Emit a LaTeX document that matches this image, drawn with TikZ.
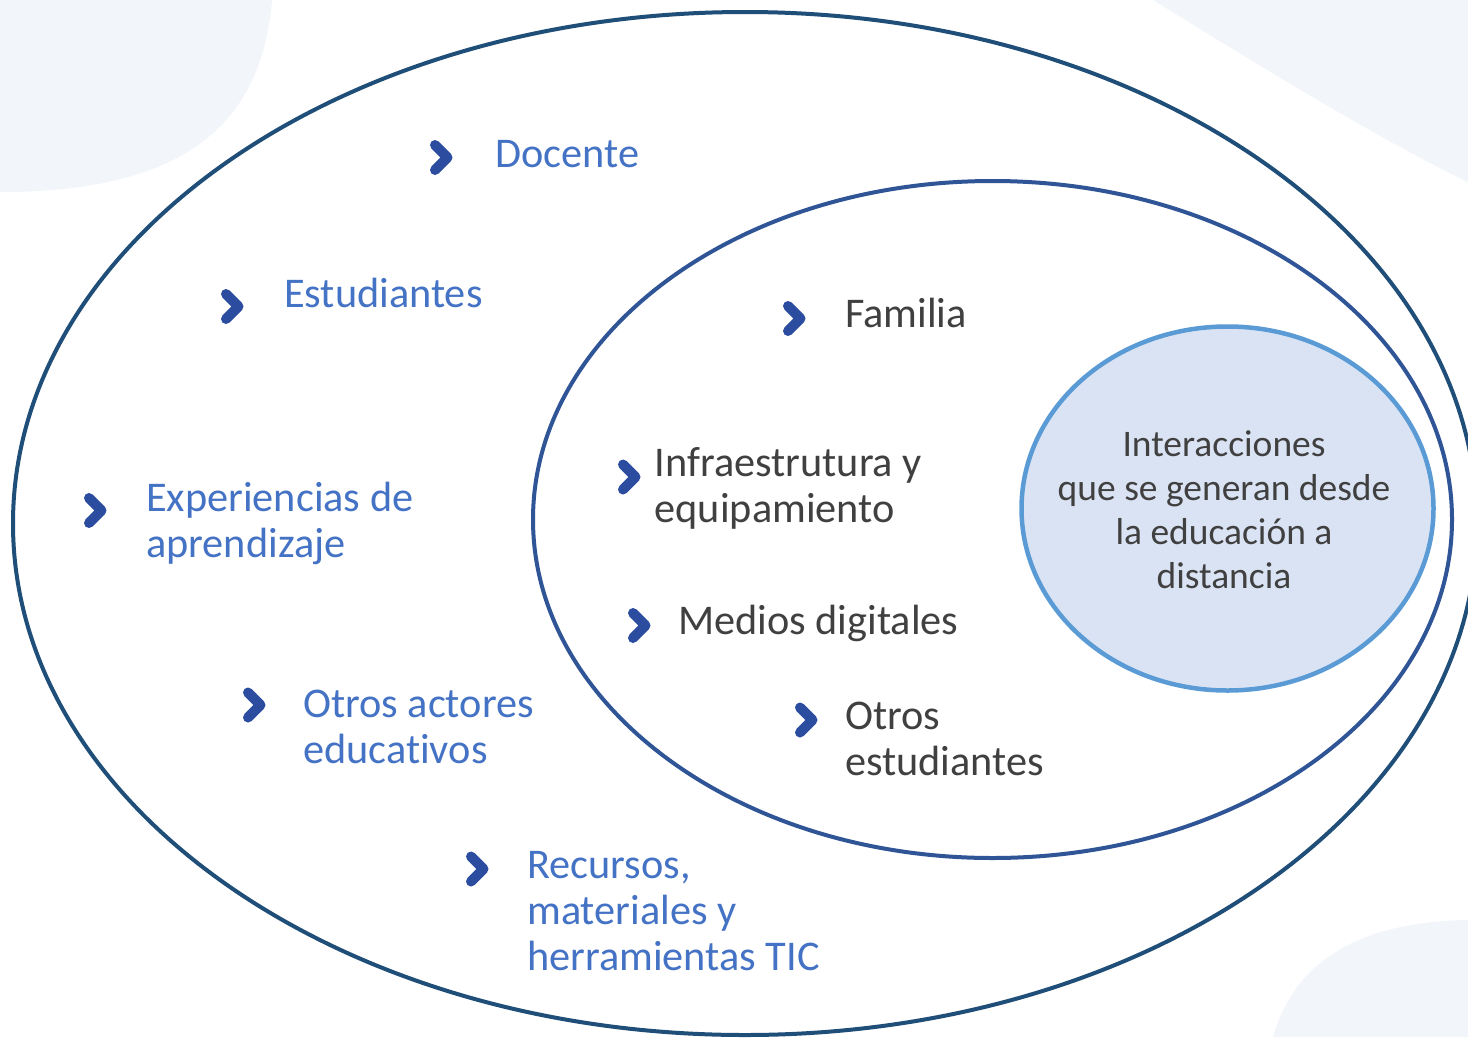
\documentclass[tikz,border=0pt]{standalone}
\usepackage{fontspec}
\setmainfont{Carlito}[Ligatures={NoCommon}]
\usetikzlibrary{shapes.geometric}
\definecolor{bgshape}{HTML}{F2F5FA}
\definecolor{outerc}{HTML}{1F4E79}
\definecolor{innerc}{HTML}{2F5597}
\definecolor{corefill}{HTML}{DAE3F3}
\definecolor{coreline}{HTML}{5B9BD5}
\definecolor{chevc}{HTML}{2B4C9F}
\definecolor{bluetext}{HTML}{4472C4}
\definecolor{darktext}{HTML}{404040}
\tikzset{
  chevstyle/.style={draw=chevc, line width=10bp, line cap=round, line join=round},
  chev/.pic={\draw[chevstyle] (-6.5,-12.5) -- (6,0) -- (-6.5,12.5);},
  itemtext/.style={anchor=base west, inner sep=0pt, font=\fontsize{42.3bp}{46bp}\selectfont},
  blueitem/.style={itemtext, text=bluetext},
  darkitem/.style={itemtext, text=darktext},
}
\newcommand{\lines}[1]{\begin{tabular}[t]{@{}l@{}}#1\end{tabular}}
\newcommand{\clines}[1]{\begin{tabular}[t]{@{}c@{}}#1\end{tabular}}
\begin{document}
\begin{tikzpicture}[x=1bp, y=-1bp]
\useasboundingbox (0,0) rectangle (1468,1037);
\fill[white] (0,0) rectangle (1468,1037);
% background blobs
\fill[bgshape] (0,0) -- (0,192) .. controls (190,192) and (262,120) .. (272,0) -- cycle;
\fill[bgshape] (1153,0) .. controls (1250,60) and (1380,140) .. (1468,182) -- (1468,0) -- cycle;
\fill[bgshape] (1273,1037) .. controls (1295,960) and (1360,922) .. (1468,920) -- (1468,1037) -- cycle;
% ellipses
\draw[outerc, line width=4bp] (745,523.5) ellipse [x radius=732, y radius=511.5];
\draw[innerc, line width=4bp] (992.5,519.5) ellipse [x radius=459.5, y radius=338.5];
\node[ellipse, draw=coreline, fill=corefill, line width=4.5bp, minimum width=412bp, minimum height=364bp,
      inner sep=0pt] (core) at (1227.5,508.5) {};
\node[anchor=base, inner sep=0pt, text=darktext, font=\fontsize{37.5bp}{44bp}\selectfont]
  (coretext) at (1224,456.5) {\clines{Interacciones\\que se generan desde\\la educación a\\distancia}};
% chevrons
\pic at (441.5,157.5) {chev};
\pic at (232.5,306.5) {chev};
\pic at (95.5,510.5) {chev};
\pic at (254.5,705) {chev};
\pic at (477.5,869) {chev};
\pic at (794.5,318.5) {chev};
\pic at (629.5,477) {chev};
\pic at (639.5,625.5) {chev};
\pic at (806.5,720) {chev};
% outer items
\node[blueitem] (docente) at (495,167) {Docente};
\node[blueitem] (estud) at (284,307.5) {Estudiantes};
\node[blueitem] (exper) at (146,511.5) {\lines{Experiencias de\\aprendizaje}};
\node[blueitem] (otrosact) at (303,717.5) {\lines{Otros actores\\educativos}};
\node[blueitem] (recursos) at (527,878) {\lines{Recursos,\\materiales y\\herramientas TIC}};
% inner items
\node[darkitem] (familia) at (845,327.5) {Familia};
\node[darkitem] (infra) at (654.5,476) {\lines{Infraestrutura y\\equipamiento}};
\node[darkitem] (medios) at (678,634) {Medios digitales};
\node[darkitem] (otrosest) at (845,729) {\lines{Otros\\estudiantes}};
\end{tikzpicture}
\end{document}
